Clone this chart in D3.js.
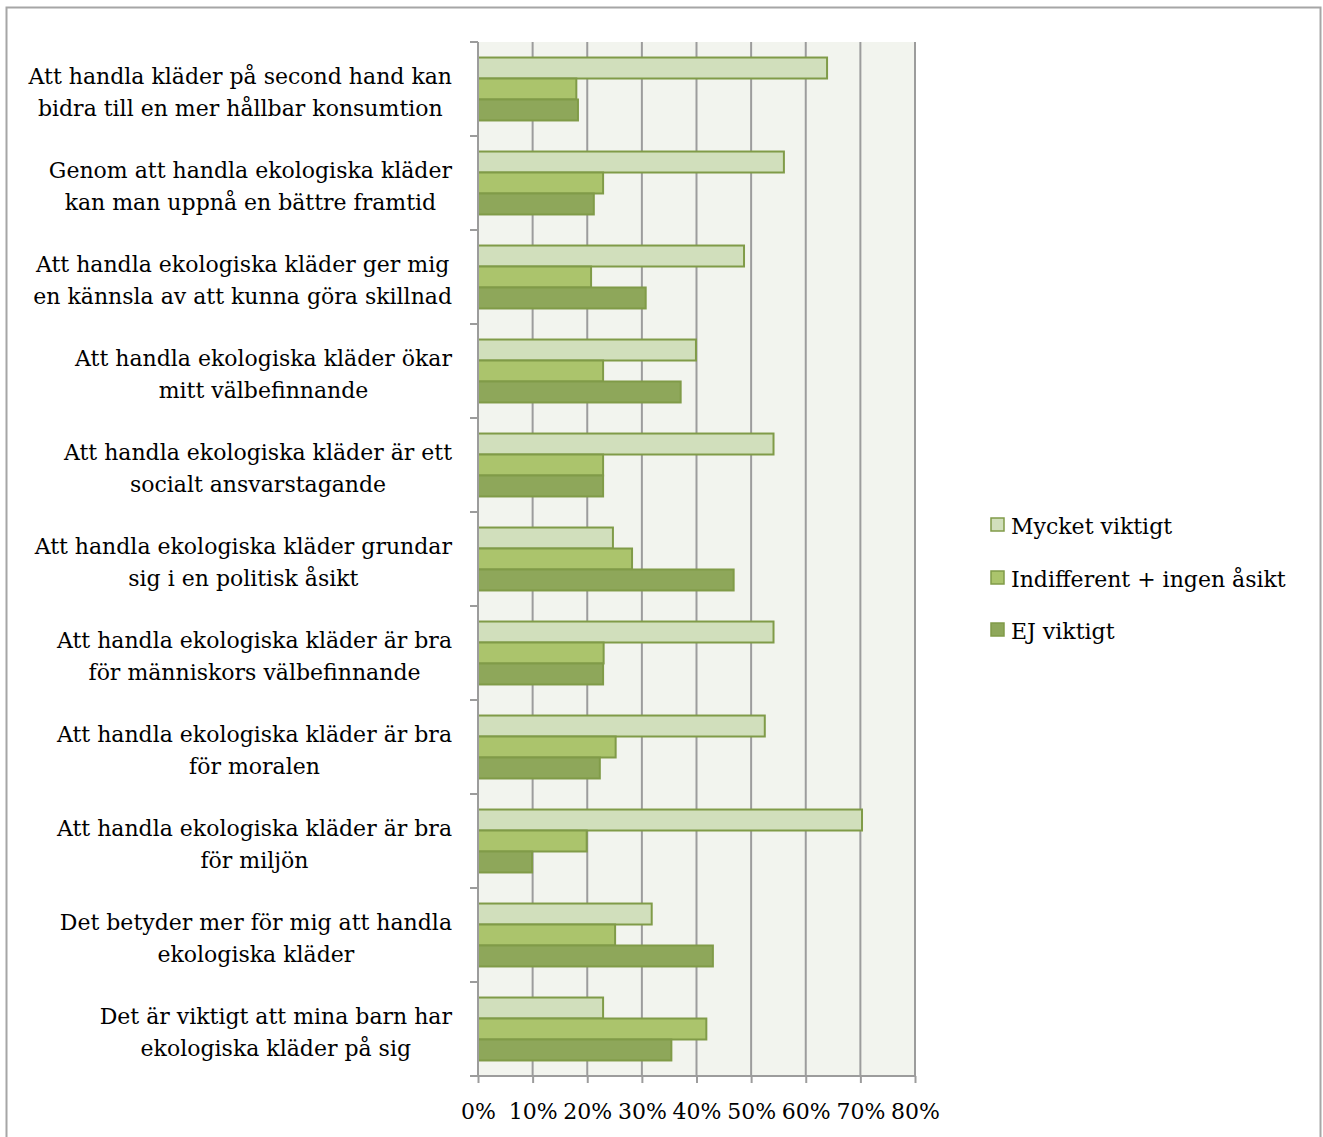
<!DOCTYPE html>
<html>
<head>
<meta charset="utf-8">
<script src="https://cdn.jsdelivr.net/npm/d3@7"></script>
<style>
  body { margin: 0; background: #fff; }
  svg text { font-family: "DejaVu Serif", serif; fill: #000; }
</style>
</head>
<body>
<div id="chart"></div>
<script>
// Category labels, each as its two lines
const categories = [
    ["Att handla kläder på second hand kan", "bidra till en mer hållbar konsumtion"],
    ["Genom att handla ekologiska kläder", "kan man uppnå en bättre framtid"],
    ["Att handla ekologiska kläder ger mig", "en kännsla av att kunna göra skillnad"],
    ["Att handla ekologiska kläder ökar", "mitt välbefinnande"],
    ["Att handla ekologiska kläder är ett", "socialt ansvarstagande"],
    ["Att handla ekologiska kläder grundar", "sig i en politisk åsikt"],
    ["Att handla ekologiska kläder är bra", "för människors välbefinnande"],
    ["Att handla ekologiska kläder är bra", "för moralen"],
    ["Att handla ekologiska kläder är bra", "för miljön"],
    ["Det betyder mer för mig att handla", "ekologiska kläder"],
    ["Det är viktigt att mina barn har", "ekologiska kläder på sig"]
];

const seriesNames = ["Mycket viktigt", "Indifferent + ingen åsikt", "EJ viktigt"];

// values in percent, same order as categories
const mycketViktigt = [63.9, 56.0, 48.7, 39.9, 54.1, 24.7, 54.1, 52.5, 70.3, 31.8, 22.9];
const indifferent   = [18.0, 22.9, 20.7, 22.9, 22.9, 28.2, 23.0, 25.2, 19.9, 25.1, 41.8];
const ejViktigt     = [18.3, 21.2, 30.7, 37.1, 22.9, 46.8, 22.9, 22.3, 9.9, 43.0, 35.4];

const xTicks = [0, 10, 20, 30, 40, 50, 60, 70, 80];

const seriesValues = [mycketViktigt, indifferent, ejViktigt];
const fills = ["#d1dfbc", "#abc46c", "#8ea75a"];

const W = 1323, H = 1137;
const plot = { left: 478, right: 915, top: 42, bottom: 1076 };

const svg = d3.select("#chart")
    .append("svg")
    .attr("width", W)
    .attr("height", H);

// outer chart border
svg.append("rect")
    .attr("x", 6.5)
    .attr("y", 7.5)
    .attr("width", 1314)
    .attr("height", 1140)
    .attr("fill", "#fff")
    .attr("stroke", "#a6a6a6")
    .attr("stroke-width", 2);

// Scales
const x = d3.scaleLinear()
    .domain([0, 80])
    .range([plot.left, plot.right]);

const y0 = d3.scaleBand()
    .domain(d3.range(categories.length))
    .range([plot.top, plot.bottom]);

const y1 = d3.scaleBand()
    .domain(d3.range(seriesNames.length))
    .range([0, y0.bandwidth()])
    .paddingOuter(0.74);

// plot background
svg.append("rect")
    .attr("x", plot.left)
    .attr("y", plot.top)
    .attr("width", plot.right - plot.left)
    .attr("height", plot.bottom - plot.top)
    .attr("fill", "#f2f4ee");

// vertical gridlines
svg.selectAll(".grid")
    .data(xTicks.slice(1))
    .enter().append("line")
    .attr("x1", d => x(d))
    .attr("x2", d => x(d))
    .attr("y1", plot.top)
    .attr("y2", plot.bottom)
    .attr("stroke", "#9c9c9c")
    .attr("stroke-width", 2);

// Bars
const groups = svg.selectAll(".cat")
    .data(categories.map((c, i) => i))
    .enter().append("g")
    .attr("transform", i => `translate(0,${y0(i)})`);

groups.selectAll("rect")
    .data(i => seriesValues.map((vals, s) => ({ s, v: vals[i] })))
    .enter().append("rect")
    .attr("x", x(0))
    .attr("y", d => y1(d.s))
    .attr("width", d => x(d.v) - x(0))
    .attr("height", y1.bandwidth())
    .attr("fill", d => fills[d.s])
    .attr("stroke", "#809b48")
    .attr("stroke-width", 2);

// Y axis line + ticks
const yAxis = svg.append("g");
yAxis.append("line")
    .attr("x1", plot.left).attr("x2", plot.left)
    .attr("y1", plot.top).attr("y2", plot.bottom)
    .attr("stroke", "#9c9c9c").attr("stroke-width", 2);
yAxis.selectAll(".ytick")
    .data(d3.range(categories.length + 1))
    .enter().append("line")
    .attr("x1", plot.left - 8).attr("x2", plot.left)
    .attr("y1", i => plot.top + i * y0.step())
    .attr("y2", i => plot.top + i * y0.step())
    .attr("stroke", "#9c9c9c").attr("stroke-width", 2);

// X axis
const xAxis = d3.axisBottom(x)
    .tickValues(xTicks)
    .tickSize(7)
    .tickFormat(d => d + "%");

const gx = svg.append("g")
    .attr("transform", `translate(0,${plot.bottom})`)
    .call(xAxis);
gx.select(".domain").remove();
gx.append("line")
    .attr("x1", plot.left - 8).attr("x2", plot.right)
    .attr("stroke", "#9c9c9c").attr("stroke-width", 2);
gx.selectAll(".tick line").attr("stroke", "#9c9c9c").attr("stroke-width", 2);
gx.selectAll(".tick text")
    .attr("y", 27)
    .attr("font-family", "DejaVu Serif")
    .attr("font-size", 22)
    .attr("fill", "#000");

// Category labels: two centred lines, block right edge at 452
const labelRight = 452;
categories.forEach((lines, i) => {
    const cy = y0(i) + y0.bandwidth() / 2;
    const t = svg.append("text")
        .attr("text-anchor", "middle")
        .attr("font-size", 22);
    const spans = lines.map((l, k) => t.append("tspan")
        .attr("y", cy + (k === 0 ? -13 : 19))
        .attr("dy", "0.35em")
        .text(l));
    const maxW = d3.max(spans, s => s.node().getComputedTextLength());
    spans.forEach(s => s.attr("x", labelRight - maxW / 2));
});

// Legend
const legend = svg.append("g");
const legendY = [525, 578, 630];
seriesNames.forEach((name, s) => {
    legend.append("rect")
        .attr("x", 991)
        .attr("y", legendY[s] - 7)
        .attr("width", 13)
        .attr("height", 13)
        .attr("fill", fills[s])
        .attr("stroke", "#809b48")
        .attr("stroke-width", 1.5);
    legend.append("text")
        .attr("x", 1011)
        .attr("y", legendY[s] + 1)
        .attr("dy", "0.35em")
        .attr("font-size", 22)
        .text(name);
});
</script>
</body>
</html>
